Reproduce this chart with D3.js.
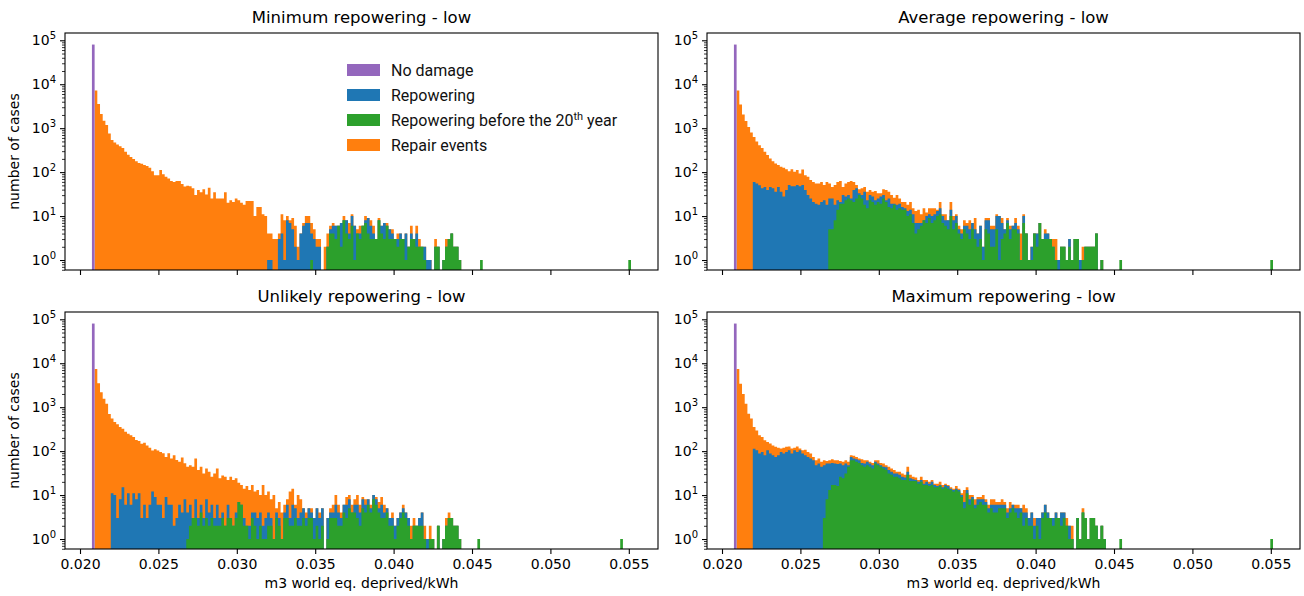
<!DOCTYPE html>
<html>
<head>
<meta charset="utf-8">
<script src="https://d3js.org/d3.v7.min.js"></script>
<style>
  body { margin: 0; background: #fff; }
  svg { display: block; }
</style>
</head>
<body>
<div id="chart"></div>
<script>
// Stacked histograms, log y scale. Each layer holds the top of that colour
// in its bin (already stacked), read off the picture bin by bin.

const categories = ["No damage", "Repowering", "Repowering before the 20th year", "Repair events"];
const colors = { nodamage: "#9467bd", repow: "#1f77b4", early: "#2ca02c", repair: "#ff7f0e" };

const xTicks = [0.020, 0.025, 0.030, 0.035, 0.040, 0.045, 0.050, 0.055];
const yTicks = [1, 10, 100, 1000, 10000, 100000];
const binStart = 0.02076, binEnd = 0.05514, binCount = 200;

const titles = ["Minimum repowering - low", "Average repowering - low",
                "Unlikely repowering - low", "Maximum repowering - low"];

// "No damage" sits in the first bin only
const noDamage = [80000, 80000, 80000, 80000];

// ---- Minimum repowering ----
const minTotal = [ // from bin 1
  7200, 3550, 2090, 1480, 1175, 760, 540, 470, 425, 390,
  355, 290, 250, 220, 200, 178, 162, 155, 145, 138,
  126, 105, 85, 85, 112, 89, 78, 72, 63, 60,
  63, 63, 54, 47, 49, 48, 43, 30, 39, 35,
  41, 31, 44, 25, 35, 25, 25, 25, 35, 20,
  23, 21, 25, 23, 20, 18, 22, 22, 22, 10,
  16, 16, 11, 10, 4, 4, 3, 3, 4, 11,
  8, 10, 8, 9, 6, 2, 4, 7, 10, 10,
  7, 5, 3, 3, 0, 2, 4, 6, 7, 6,
  6, 7, 10, 8, 7, 11, 6, 5, 6, 6,
  10, 9, 8, 6, 3, 9, 6, 7, 7, 5,
  5, 3, 4, 4, 3, 4, 2, 6, 3, 6,
  3, 2, 2, 1, 1, 0, 3, 2, 0, 1,
  3, 3, 4, 2, 2, 1];
const minRepow = [ // from bin 65
  1, 1, 0, 0, 3, 4,
  1, 8, 7, 5, 2, 1, 4, 6, 7, 7,
  4, 3, 2, 2, 0, 0, 2, 5, 6, 6,
  6, 7, 8, 8, 4, 10, 6, 4, 4, 6,
  8, 9, 6, 4, 3, 8, 6, 7, 6, 5,
  4, 3, 3, 4, 3, 4, 2, 4, 3, 4,
  2, 2, 2, 1, 1, 0, 2, 2, 0, 1,
  2, 3, 4, 2, 2, 1];
const minEarly = [ // from bin 81
  1, 0, 0, 0, 0, 0, 2, 4, 4, 3,
  6, 2, 8, 4, 3, 6, 1, 4, 3, 6,
  7, 4, 3, 3, 3, 8, 4, 3, 6, 3,
  3, 3, 2, 3, 3, 1, 2, 3, 3, 2,
  2, 2, 1, 0, 0, 0, 2, 2, 0, 1,
  2, 3, 4, 2, 2, 1];
const minEarlyLone = [[144, 1], [199, 1]];

// ---- Average repowering ----
const avgTotal = [ // from bin 1
  7200, 3450, 2050, 1450, 1070, 800, 630, 500, 410, 355,
  290, 245, 205, 178, 158, 145, 132, 125, 117, 105,
  117, 102, 112, 93, 115, 85, 78, 66, 60, 55,
  55, 60, 51, 60, 55, 46, 51, 60, 63, 46,
  55, 60, 63, 60, 51, 41, 43, 46, 36, 39,
  36, 37, 33, 33, 41, 39, 36, 30, 26, 30,
  25, 21, 21, 18, 21, 15, 13, 14, 11, 15,
  12, 15, 15, 15, 14, 21, 11, 11, 8, 21,
  10, 11, 6, 5, 8, 7, 8, 7, 9, 4,
  6, 2, 9, 9, 6, 6, 11, 10, 9, 5,
  9, 6, 6, 9, 6, 4, 11, 4, 1, 2,
  4, 4, 7, 3, 5, 4, 3, 3, 3, 1,
  2, 2, 1, 3, 1, 3, 3, 1, 2, 2,
  2, 2, 2, 4, 0, 1];
const avgRepow = [ // from bin 7
  60, 55, 50, 43,
  46, 39, 46, 43, 36, 46, 36, 28, 39, 51,
  48, 48, 51, 48, 51, 39, 30, 25, 21, 19,
  18, 21, 23, 18, 25, 25, 18, 23, 21, 30,
  28, 30, 25, 39, 43, 33, 30, 36, 23, 30,
  28, 23, 25, 28, 30, 23, 25, 19, 19, 18,
  19, 16, 15, 13, 14, 11, 7, 7, 7, 8,
  10, 11, 10, 11, 13, 15, 10, 8, 8, 14,
  8, 10, 5, 4, 6, 6, 5, 7, 5, 4,
  6, 2, 8, 8, 5, 5, 10, 10, 7, 5,
  8, 5, 6, 7, 5, 1, 10, 4, 1, 2,
  4, 4, 7, 3, 4, 4, 3, 2, 1, 1,
  2, 2, 1, 3, 1, 3, 3, 1, 1, 2,
  2, 2, 2, 4, 0, 1];
const avgEarly = [ // from bin 35
  5, 5, 8, 14, 19, 19,
  23, 25, 23, 21, 25, 30, 25, 18, 15, 23,
  21, 18, 21, 19, 25, 21, 16, 15, 18, 14,
  15, 14, 14, 10, 11, 7, 4, 5, 6, 8,
  7, 9, 7, 8, 10, 11, 7, 6, 5, 10,
  5, 7, 4, 3, 5, 4, 3, 5, 3, 2,
  3, 1, 5, 4, 2, 2, 5, 1, 3, 4,
  7, 3, 5, 5, 4, 1, 7, 4, 1, 1,
  4, 2, 7, 3, 3, 3, 3, 2, 1, 0,
  2, 2, 1, 2, 1, 3, 3, 0, 1, 2,
  2, 2, 2, 4, 0, 1];
const avgEarlyLone = [[143, 1], [199, 1]];

// ---- Unlikely repowering ----
const unlTotal = [ // from bin 1
  7400, 3500, 2200, 1550, 1200, 700, 550, 460, 410, 355,
  325, 275, 250, 230, 210, 180, 170, 148, 155, 135,
  120, 104, 110, 104, 95, 89, 74, 89, 68, 81,
  63, 57, 72, 53, 44, 48, 44, 68, 37, 44,
  31, 40, 34, 26, 31, 40, 24, 28, 26, 22,
  26, 22, 24, 19, 17, 14, 16, 13, 17, 12,
  13, 10, 17, 10, 12, 8, 10, 5, 7, 4,
  6, 8, 12, 14, 6, 10, 8, 5, 4, 5,
  5, 3, 5, 4, 5, 0, 3, 5, 6, 10,
  6, 4, 6, 9, 10, 6, 8, 10, 6, 9,
  8, 8, 6, 10, 9, 7, 9, 6, 5, 3,
  4, 2, 3, 4, 6, 4, 3, 2, 3, 2,
  3, 4, 2, 1, 2, 1, 0, 2, 0, 1,
  3, 4, 3, 2, 2, 1];
const unlRepow = [ // from bin 7
  11, 10, 3, 8,
  15, 6, 11, 6, 11, 8, 11, 3, 6, 3,
  6, 12, 9, 6, 6, 3, 9, 6, 6, 2,
  3, 6, 4, 8, 4, 6, 3, 8, 3, 6,
  3, 8, 4, 6, 3, 6, 3, 4, 2, 6,
  3, 2, 4, 7, 6, 3, 2, 2, 4, 4,
  3, 4, 2, 3, 4, 3, 1, 4, 3, 1,
  4, 6, 3, 6, 5, 3, 4, 5, 3, 5,
  4, 3, 5, 3, 5, 0, 3, 4, 4, 6,
  4, 3, 6, 6, 8, 4, 6, 6, 4, 8,
  6, 8, 5, 10, 8, 5, 6, 4, 5, 3,
  3, 2, 3, 4, 5, 4, 3, 1, 2, 2,
  3, 4, 1, 1, 1, 1, 0, 2, 0, 1,
  2, 3, 3, 2, 2, 1];
const unlEarly = [ // from bin 35
  1, 2, 3, 3, 2, 4,
  2, 3, 2, 3, 2, 2, 2, 3, 2, 3,
  3, 2, 3, 7, 6, 2, 2, 1, 3, 2,
  1, 2, 1, 1, 2, 2, 1, 3, 2, 1,
  3, 3, 2, 2, 3, 2, 2, 3, 2, 3,
  3, 1, 2, 1, 2, 0, 1, 3, 3, 3,
  2, 2, 4, 3, 5, 4, 4, 3, 2, 5,
  4, 6, 4, 8, 6, 4, 3, 3, 4, 2,
  2, 1, 2, 3, 4, 3, 2, 1, 2, 2,
  2, 2, 1, 0, 1, 1, 0, 2, 0, 1,
  2, 3, 3, 2, 2, 1];
const unlEarlyLone = [[143, 1], [196, 1]];

// ---- Maximum repowering ----
const maxTotal = [ // from bin 1
  7400, 3400, 2000, 1200, 710, 550, 355, 295, 230, 210,
  178, 162, 150, 135, 125, 120, 115, 120, 125, 128,
  115, 120, 128, 115, 105, 108, 96, 88, 74, 62,
  68, 57, 62, 60, 62, 65, 62, 62, 60, 57,
  62, 57, 81, 78, 74, 68, 65, 62, 62, 57,
  54, 62, 62, 54, 52, 48, 44, 40, 37, 34,
  34, 31, 29, 44, 29, 26, 25, 22, 26, 22,
  22, 20, 22, 18, 18, 20, 17, 18, 17, 15,
  14, 16, 14, 11, 13, 15, 10, 10, 8, 9,
  9, 10, 8, 6, 8, 8, 7, 7, 8, 7,
  5, 7, 6, 6, 6, 5, 6, 5, 3, 4,
  3, 3, 3, 4, 6, 4, 3, 3, 4, 3,
  4, 4, 3, 2, 2, 0, 3, 1, 5, 3,
  1, 3, 3, 2, 1, 2, 1];
const maxRepow = [ // from bin 7
  114, 105, 88, 96,
  81, 105, 88, 81, 74, 81, 96, 88, 96, 105,
  88, 105, 96, 105, 88, 81, 74, 68, 62, 48,
  52, 44, 48, 52, 52, 54, 52, 51, 52, 48,
  52, 48, 74, 68, 65, 62, 54, 52, 57, 52,
  48, 57, 52, 48, 44, 43, 37, 34, 31, 31,
  29, 26, 25, 34, 24, 23, 22, 20, 22, 18,
  20, 18, 20, 17, 16, 17, 15, 17, 16, 14,
  13, 14, 13, 10, 7, 13, 8, 9, 6, 8,
  8, 8, 7, 5, 6, 6, 6, 6, 6, 6,
  4, 5, 6, 5, 5, 5, 4, 4, 3, 4,
  2, 3, 3, 4, 6, 4, 3, 3, 4, 3,
  4, 4, 2, 2, 1, 0, 3, 1, 4, 3,
  1, 3, 3, 2, 1, 2, 1];
const maxEarly = [ // from bin 33
  3, 8, 13, 17, 17, 16, 26, 24,
  31, 44, 62, 62, 57, 54, 48, 44, 48, 44,
  40, 52, 48, 44, 40, 37, 31, 29, 26, 26,
  24, 22, 22, 29, 21, 21, 21, 18, 20, 17,
  17, 16, 17, 15, 15, 16, 14, 15, 14, 13,
  12, 13, 12, 9, 5, 11, 6, 8, 5, 6,
  7, 6, 6, 4, 5, 4, 4, 5, 5, 5,
  3, 4, 5, 4, 3, 4, 2, 3, 2, 2,
  1, 2, 1, 3, 4, 3, 3, 2, 3, 3,
  2, 3, 2, 1, 1, 0, 3, 1, 4, 3,
  1, 3, 3, 2, 1, 2, 1];
const maxEarlyLone = [[143, 1], [199, 1]];

// expand a run of counts (plus lone bins) into a full bin array
function toBins(from, values, lone) {
  const out = new Array(binCount).fill(0);
  values.forEach((v, i) => { out[from + i] = v; });
  (lone || []).forEach(([b, v]) => { out[b] = v; });
  return out;
}

const panels = [
  { title: titles[0], col: 0, row: 0, nd: noDamage[0],
    total: toBins(1, minTotal), repow: toBins(65, minRepow), early: toBins(81, minEarly, minEarlyLone) },
  { title: titles[1], col: 1, row: 0, nd: noDamage[1],
    total: toBins(1, avgTotal), repow: toBins(7, avgRepow), early: toBins(35, avgEarly, avgEarlyLone) },
  { title: titles[2], col: 0, row: 1, nd: noDamage[2],
    total: toBins(1, unlTotal), repow: toBins(7, unlRepow), early: toBins(35, unlEarly, unlEarlyLone) },
  { title: titles[3], col: 1, row: 1, nd: noDamage[3],
    total: toBins(1, maxTotal), repow: toBins(7, maxRepow), early: toBins(33, maxEarly, maxEarlyLone) }
];

// layout
const W = 1304, H = 596;
const colX = [65, 707], rowY = [33, 312];
const pw = 593, ph = 237;
const font = "'DejaVu Sans', sans-serif";

const svg = d3.select("#chart").append("svg")
  .attr("width", W).attr("height", H);

const binW = (binEnd - binStart) / binCount;
const edges = d3.range(binCount + 1).map(i => binStart + i * binW);

panels.forEach(p => {
  const g = svg.append("g")
    .attr("transform", `translate(${colX[p.col]},${rowY[p.row]})`);

  const x = d3.scaleLinear().domain([0.019043, 0.056862]).range([0, pw]);
  const y = d3.scaleLog().domain([Math.pow(10, -0.227), Math.pow(10, 5.166)]).range([ph, 0]);

  const nd = new Array(binCount).fill(0); nd[0] = p.nd;
  const layers = [
    { vals: p.total, color: colors.repair },
    { vals: p.repow, color: colors.repow },
    { vals: p.early, color: colors.early },
    { vals: nd, color: colors.nodamage }
  ];

  // one path per layer so neighbouring bars don't leave hairline seams
  layers.forEach(l => {
    const d = l.vals.map((v, i) => v > 0
      ? `M${x(edges[i])},${ph}V${y(v)}H${x(edges[i + 1])}V${ph}Z` : "").join("");
    g.append("path").attr("d", d).attr("fill", l.color);
  });

  // x axis
  const xa = g.append("g")
    .attr("transform", `translate(0,${ph})`)
    .call(d3.axisBottom(x).tickValues(xTicks).tickSize(5).tickPadding(5)
      .tickFormat(p.row === 1 ? d3.format(".3f") : ""));
  xa.select(".domain").remove();
  xa.selectAll("line").attr("stroke", "#000").attr("stroke-width", 1.1);
  xa.selectAll("text").attr("fill", "#000").style("font-family", font).style("font-size", "14px");

  // y axis, major + minor log ticks
  const minor = [];
  for (let e = -1; e <= 5; e++) for (let m = 2; m <= 9; m++) {
    const v = m * Math.pow(10, e);
    if (v >= y.domain()[0] && v <= y.domain()[1]) minor.push(v);
  }
  const ym = g.append("g")
    .call(d3.axisLeft(y).tickValues(minor).tickSize(3).tickFormat(""));
  ym.select(".domain").remove();
  ym.selectAll("line").attr("stroke", "#000").attr("stroke-width", 0.8);

  const ya = g.append("g")
    .call(d3.axisLeft(y).tickValues(yTicks).tickSize(5).tickFormat(""));
  ya.select(".domain").remove();
  ya.selectAll("line").attr("stroke", "#000").attr("stroke-width", 1.1);

  const lab = g.append("g").selectAll("text")
    .data(yTicks).enter().append("text")
    .attr("x", -9)
    .attr("y", d => y(d) + 5)
    .attr("text-anchor", "end")
    .style("font-family", font).style("font-size", "14px")
    .attr("fill", "#000");
  lab.append("tspan").text("10");
  lab.append("tspan").attr("dy", -6).style("font-size", "10px")
    .text(d => Math.round(Math.log10(d)));

  // frame
  g.append("rect")
    .attr("width", pw).attr("height", ph)
    .attr("fill", "none").attr("stroke", "#000").attr("stroke-width", 1.1);

  // title
  g.append("text")
    .attr("x", pw / 2).attr("y", -10)
    .attr("text-anchor", "middle")
    .style("font-family", font).style("font-size", "16.5px")
    .attr("fill", "#000")
    .text(p.title);

  if (p.col === 0) {
    g.append("text")
      .attr("transform", `translate(${-46},${ph / 2}) rotate(-90)`)
      .attr("text-anchor", "middle")
      .style("font-family", font).style("font-size", "14px")
      .attr("fill", "#000")
      .text("number of cases");
  }
  if (p.row === 1) {
    g.append("text")
      .attr("x", pw / 2).attr("y", ph + 39)
      .attr("text-anchor", "middle")
      .style("font-family", font).style("font-size", "14px")
      .attr("fill", "#000")
      .text("m3 world eq. deprived/kWh");
  }
});

// legend (top-left panel)
const legendColors = [colors.nodamage, colors.repow, colors.early, colors.repair];
const leg = svg.append("g").attr("transform", "translate(347,70)");
categories.forEach((c, i) => {
  const row = leg.append("g").attr("transform", `translate(0,${i * 25})`);
  row.append("rect").attr("x", 0).attr("y", -6).attr("width", 33).attr("height", 12)
    .attr("fill", legendColors[i]);
  const t = row.append("text").attr("x", 44).attr("y", 5.5)
    .style("font-family", "Roboto, sans-serif").style("font-size", "16px")
    .attr("fill", "#111");
  if (c.includes("20th")) {
    t.append("tspan").text("Repowering before the 20");
    t.append("tspan").attr("dy", -6).style("font-size", "11px").text("th");
    t.append("tspan").attr("dy", 6).text(" year");
  } else {
    t.text(c);
  }
});
</script>
</body>
</html>
